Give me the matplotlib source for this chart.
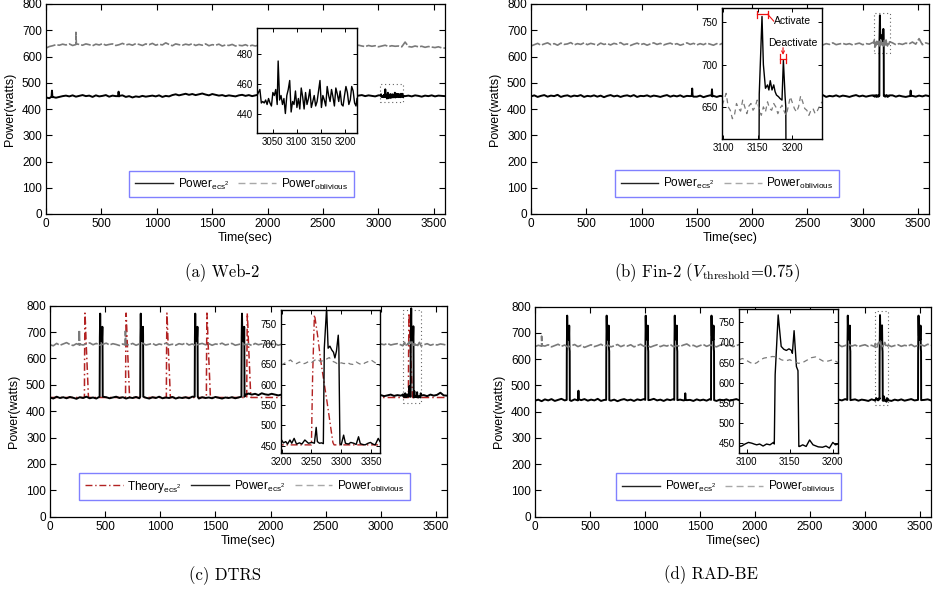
import numpy as np
import matplotlib
matplotlib.use("Agg")
import matplotlib.pyplot as plt
from matplotlib.lines import Line2D
from matplotlib.patches import Rectangle

plt.rcParams['font.family'] = ['Liberation Sans', 'DejaVu Sans']
plt.rcParams['mathtext.fontset'] = 'custom'
plt.rcParams['mathtext.rm'] = 'Liberation Sans'
plt.rcParams['mathtext.it'] = 'Liberation Sans:italic'
plt.rcParams['mathtext.bf'] = 'Liberation Sans:bold'
plt.rcParams['mathtext.sf'] = 'Liberation Sans'

# ---------------------------------------------------------------- data
STEP = 30   # seconds between samples of the baseline lists below

# (a) Web-2
A_ECS = [444, 441, 446, 443, 446, 449, 451, 448, 452, 447,
         450, 453, 449, 451, 446, 452, 448, 450, 453, 447,
         451, 449, 450, 452, 446, 449, 444, 448, 446, 450,
         447, 449, 451, 448, 452, 446, 450, 448, 453, 456,
         452, 455, 458, 454, 457, 453, 456, 459, 455, 452,
         457, 454, 451, 453, 449, 452, 450, 448, 452, 454,
         450, 453, 449, 452, 455, 451, 448, 453, 450, 454,
         451, 449, 452, 455, 450, 453, 448, 451, 454, 450,
         452, 449, 453, 451, 448, 452, 450, 453, 449, 451,
         454, 450, 452, 448, 451, 453, 449, 452, 450, 448,
         452, 449, 451, 453, 448, 452, 450, 453, 449, 451,
         448, 452, 450, 447, 451, 449, 452, 448, 451, 450,
         449]
A_ECS_EXTRA = [(50, 447), (54, 470), (58, 445), (651, 449), (655, 466), (659, 448)]
A_OBL = [632, 638, 641, 645, 643, 647, 644, 648, 642, 646,
         646, 643, 648, 645, 641, 647, 644, 649, 643, 646,
         648, 642, 645, 650, 644, 647, 643, 649, 646, 642,
         648, 645, 650, 643, 647, 644, 652, 646, 641, 648,
         645, 643, 647, 644, 649, 642, 646, 643, 648, 641,
         645, 643, 647, 640, 644, 642, 646, 640, 643, 641,
         645, 639, 643, 640, 644, 641, 638, 643, 640, 642,
         639, 643, 640, 644, 641, 638, 642, 639, 643, 640,
         637, 642, 639, 643, 640, 638, 641, 643, 639, 642,
         640, 637, 641, 639, 643, 640, 638, 642, 639, 641,
         637, 640, 643, 638, 641, 639, 640, 637, 655, 638,
         636, 640, 637, 639, 635, 638, 636, 634, 637, 633,
         632]
A_OBL_EXTRA = [(266, 645), (270, 692), (274, 648)]
A_IN_ECS = [(3017, 452), (3020, 454), (3023, 456), (3026, 447), (3029, 448), (3032, 447),
            (3035, 449), (3038, 446), (3041, 450), (3044, 447), (3047, 445), (3050, 454),
            (3053, 452), (3056, 456), (3059, 446), (3061, 475), (3064, 449), (3067, 452),
            (3070, 446), (3073, 450), (3076, 440), (3079, 452), (3082, 456), (3085, 462),
            (3088, 441), (3091, 448), (3094, 446), (3097, 455), (3100, 444), (3103, 450),
            (3106, 443), (3109, 457), (3112, 451), (3115, 443), (3118, 454), (3121, 446),
            (3124, 450), (3127, 456), (3130, 444), (3133, 448), (3136, 452), (3139, 445),
            (3142, 448), (3145, 455), (3148, 462), (3151, 444), (3154, 452), (3157, 449),
            (3160, 445), (3163, 458), (3166, 452), (3169, 448), (3172, 456), (3175, 451),
            (3178, 445), (3181, 457), (3184, 453), (3187, 448), (3190, 455), (3193, 446),
            (3196, 445), (3199, 452), (3202, 458), (3205, 454), (3208, 446), (3211, 449),
            (3214, 458), (3217, 455), (3220, 447), (3223, 445), (3225, 450)]

# (b) Fin-2
B_ECS = [448, 452, 446, 450, 453, 447, 451, 449, 454, 446,
         450, 452, 447, 451, 449, 453, 446, 450, 448, 452,
         447, 451, 445, 450, 453, 448, 451, 446, 450, 452,
         448, 453, 446, 450, 449, 452, 447, 451, 449, 446,
         450, 453, 447, 451, 448, 452, 446, 450, 449, 447,
         447, 451, 445, 449, 452, 450, 446, 450, 448, 452,
         447, 451, 446, 450, 453, 448, 451, 447, 450, 452,
         446, 449, 451, 447, 452, 448, 450, 453, 447, 451,
         449, 446, 452, 448, 450, 447, 451, 449, 453, 446,
         450, 448, 452, 447, 451, 449, 446, 450, 453, 448,
         451, 447, 450, 452, 448, 451, 446, 450, 449, 452,
         447, 451, 448, 446, 449, 450, 447, 451, 448, 452,
         449]
B_ECS_EXTRA = [(1454, 450), (1458, 478), (1462, 449), (1633, 451), (1637, 475), (1641, 448),
               (3430, 449), (3434, 470), (3438, 450)]
B_OBL = [640, 645, 650, 643, 648, 652, 645, 649, 643, 651,
         646, 648, 653, 644, 649, 646, 652, 645, 650, 647,
         643, 651, 646, 649, 644, 650, 647, 653, 645, 648,
         642, 647, 651, 645, 649, 643, 648, 652, 646, 650,
         644, 648, 651, 645, 649, 643, 647, 652, 646, 650,
         644, 649, 645, 651, 647, 643, 649, 646, 652, 645,
         648, 644, 650, 646, 649, 643, 648, 651, 645, 649,
         647, 652, 645, 648, 644, 650, 646, 649, 652, 645,
         648, 643, 650, 646, 649, 645, 651, 647, 644, 649,
         646, 652, 645, 648, 650, 646, 649, 644, 648, 651,
         645, 649, 647, 653, 646, 648, 644, 650, 647, 652,
         645, 649, 646, 651, 648, 655, 647, 668, 645, 652,
         648]
B_IN_ECS = [(3098, 449), (3103, 452), (3108, 447), (3113, 451), (3118, 448), (3123, 453),
            (3128, 446), (3133, 450), (3138, 452), (3143, 447), (3148, 451), (3151, 450),
            (3152, 665), (3156, 757), (3158, 700), (3161, 672), (3164, 676), (3166, 670),
            (3168, 681), (3170.5, 670), (3173, 676), (3175, 668), (3177, 664), (3180, 662),
            (3182, 660), (3185, 658), (3187, 705), (3189.5, 662), (3190.5, 650), (3191.5, 450),
            (3197, 452), (3202, 447), (3207, 451), (3212, 448), (3217, 453), (3222, 449),
            (3227, 446), (3232, 451), (3237, 449), (3243, 452)]
B_IN_OBL = [(3098, 652), (3101, 658), (3104, 666), (3107, 650), (3110, 646), (3113, 636),
            (3116, 640), (3119, 654), (3122, 648), (3125, 645), (3128, 658), (3131, 650),
            (3134, 642), (3137, 651), (3140, 654), (3143, 646), (3146, 650), (3149, 658),
            (3152, 646), (3155, 640), (3158, 650), (3161, 644), (3164, 656), (3167, 648),
            (3170, 646), (3173, 654), (3176, 650), (3179, 642), (3182, 648), (3185, 652),
            (3188, 645), (3191, 640), (3194, 650), (3197, 662), (3200, 655), (3203, 648),
            (3206, 644), (3209, 650), (3212, 663), (3215, 656), (3218, 648), (3221, 646),
            (3224, 640), (3227, 646), (3230, 648), (3233, 642), (3236, 645), (3239, 650),
            (3243, 656)]
# annotation anchors of panel (b) inset (data units)
ACT_BRACKET = (3148.8, 3164.3, 759.5)
ACT_TEXT = (3173, 751.5)
DEACT_TEXT = (3165, 726)
DEACT_ARROW = (3186.5, 720, 711.5)
DEACT_BRACKET = (3181.6, 3191.3, 707)

# (c) DTRS
C_ECS = [452, 448, 455, 450, 453, 449, 454, 451, 447, 453,
         450, 455, 449, 452, 448, 454, 450, 453, 449, 452,
         455, 450, 453, 448, 452, 450, 454, 449, 453, 451,
         448, 453, 450, 455, 449, 452, 450, 454, 448, 452,
         450, 453, 449, 455, 451, 448, 453, 450, 452, 449,
         454, 451, 448, 452, 450, 453, 449, 452, 465, 462,
         467, 463, 466, 461, 468, 464, 462, 466, 463, 460,
         463, 459, 462, 458, 461, 464, 459, 462, 460, 463,
         458, 461, 459, 463, 460, 462, 458, 461, 464, 459,
         462, 460, 463, 459, 461, 458, 462, 460, 463, 459,
         461, 457, 460, 463, 458, 461, 459, 462, 457, 460,
         458, 462, 459, 461, 457, 463, 459, 462, 470, 460,
         459]
C_ECS_T0 = [450, 818, 1312, 1736]
C_ECS_DT = [0, 2, 5, 8, 11, 15, 19, 22, 25, 26, 28]
C_ECS_V = [455, 680, 770, 690, 695, 682, 665, 683, 720, 690, 455]
C_OBL = [652, 648, 657, 650, 655, 660, 653, 649, 656, 651,
         651, 655, 659, 652, 657, 650, 654, 658, 651, 656,
         653, 649, 655, 652, 652, 657, 650, 655, 658, 651,
         654, 657, 650, 655, 652, 658, 651, 654, 650, 656,
         653, 659, 651, 655, 649, 654, 657, 652, 656, 650,
         655, 653, 658, 651, 654, 657, 650, 653, 656, 652,
         655, 649, 657, 652, 655, 651, 658, 653, 656, 650,
         654, 657, 652, 655, 650, 656, 653, 658, 651, 655,
         652, 657, 650, 654, 658, 652, 655, 651, 656, 653,
         650, 655, 657, 652, 654, 651, 656, 653, 658, 650,
         655, 652, 657, 651, 654, 656, 652, 655, 650, 654,
         657, 651, 655, 652, 656, 650, 654, 651, 655, 653,
         650]
C_OBL_EXTRA = [(262, 652), (266, 708), (270, 654), (680, 651), (684, 704), (688, 653)]
THEORY_BASE = 452
THEORY_T0 = [312, 685, 1055, 1418, 1784, 3250]
THEORY_DT = [0, 2, 5, 6, 11, 15, 26, 36, 38]
THEORY_V = [452, 620, 772, 765, 715, 665, 560, 458, 452]
C_IN_ECS = [(3199, 462), (3200, 464), (3203, 457), (3207, 460), (3210, 454), (3214, 464),
            (3217, 456), (3221, 468), (3225, 454), (3230, 457), (3234, 454), (3239, 464),
            (3245, 456), (3251, 458), (3255, 456), (3258, 495), (3260, 460), (3263.5, 456),
            (3267, 457), (3270, 455), (3271.6, 690), (3275.5, 790), (3278, 690), (3281, 695),
            (3284, 686), (3287, 680), (3289.4, 666), (3292, 683), (3295, 722), (3296, 690),
            (3297.8, 455), (3300, 452), (3304, 476), (3307, 456), (3312, 454), (3316, 458),
            (3321, 456), (3325, 453), (3329, 472), (3332, 455), (3336, 453), (3340, 452),
            (3345, 456), (3349, 458), (3353, 454), (3357, 452), (3362, 468), (3365, 460)]
C_IN_OBL = [(3199, 648), (3205, 653), (3210, 657), (3215, 661), (3220, 654), (3225, 652),
            (3230, 656), (3235, 651), (3240, 653), (3245, 657), (3250, 654), (3255, 660),
            (3260, 664), (3265, 657), (3270, 660), (3275, 663), (3280, 667), (3285, 658),
            (3290, 655), (3295, 650), (3300, 654), (3305, 652), (3310, 655), (3315, 651),
            (3320, 650), (3325, 656), (3330, 652), (3335, 649), (3340, 654), (3345, 657),
            (3350, 661), (3355, 656), (3360, 651), (3365, 647)]

# (d) RAD-BE
D_ECS = [442, 446, 440, 447, 443, 448, 441, 445, 449, 443,
         446, 441, 447, 443, 444, 448, 442, 446, 443, 449,
         441, 445, 447, 442, 446, 440, 445, 448, 443, 446,
         441, 447, 444, 448, 442, 445, 449, 443, 446, 441,
         447, 444, 448, 442, 446, 443, 444, 445, 441, 447,
         443, 446, 442, 448, 444, 441, 446, 443, 447, 442,
         445, 448, 443, 446, 441, 445, 447, 442, 446, 443,
         448, 441, 445, 447, 443, 446, 442, 448, 444, 441,
         446, 443, 447, 442, 445, 448, 443, 446, 441, 447,
         444, 442, 446, 443, 448, 441, 445, 447, 442, 446,
         444, 441, 447, 443, 446, 442, 448, 444, 441, 446,
         443, 447, 442, 445, 448, 443, 446, 441, 445, 447,
         443]
D_ECS_EXTRA = [(391, 446), (395, 480), (399, 447), (1362, 444), (1366, 470), (1370, 445)]
D_ECS_T0 = [288, 647, 1002, 1266, 1600, 2839, 3482]
D_ECS_DT = [0, 1, 4.5, 8, 11, 14, 17, 20, 23, 25.5, 27.5, 28.5]
D_ECS_V = [445, 620, 766, 690, 683, 680, 685, 673, 728, 640, 630, 444]
D_OBL = [648, 653, 650, 650, 655, 647, 652, 657, 649, 654,
         646, 651, 656, 648, 653, 645, 650, 655, 648, 652,
         657, 649, 654, 647, 651, 656, 648, 653, 650, 655,
         647, 652, 657, 649, 653, 646, 651, 655, 648, 653,
         650, 656, 647, 652, 649, 654, 658, 650, 653, 647,
         652, 656, 649, 654, 651, 647, 653, 657, 650, 654,
         648, 652, 656, 649, 653, 647, 652, 655, 650, 654,
         648, 653, 657, 650, 652, 647, 654, 651, 656, 649,
         653, 648, 652, 655, 650, 654, 647, 651, 656, 649,
         653, 650, 655, 648, 652, 657, 650, 654, 648, 652,
         655, 649, 653, 647, 651, 656, 650, 654, 648, 652,
         655, 649, 653, 650, 656, 648, 652, 655, 650, 657,
         653]
D_OBL_EXTRA = [(56, 650), (60, 688), (64, 652)]
D_IN_ECS = [(3091, 442), (3094, 443), (3098, 448), (3102, 452), (3106, 450), (3108.5, 448),
            (3111.5, 446), (3115, 448), (3119, 443), (3123, 448), (3127, 446), (3131, 452),
            (3132, 448), (3133, 620), (3136.5, 768), (3140, 690), (3143, 683), (3146, 680),
            (3149, 684), (3152, 680), (3153, 673), (3155, 729), (3157.7, 640), (3159.5, 630),
            (3160.5, 442), (3161.5, 442), (3165, 446), (3169, 442), (3173, 458), (3177, 446),
            (3183, 441), (3188, 440), (3192, 443), (3196, 438), (3200, 452), (3203, 446),
            (3206, 448)]
D_IN_OBL = [(3091, 657), (3095, 660), (3100, 655), (3104, 650), (3108, 646), (3112, 650),
            (3116, 657), (3120, 661), (3125, 663), (3130, 665), (3135, 664), (3140, 657),
            (3145, 654), (3150, 657), (3155, 652), (3160, 648), (3165, 650), (3170, 656),
            (3175, 662), (3180, 664), (3185, 658), (3190, 652), (3195, 654), (3200, 657),
            (3206, 650)]

# inset windows (x range, y range)
WIN = {'a': ((3017, 3225), (427, 497)),
       'b': ((3098, 3243), (612, 767)),
       'c': ((3199, 3365), (432, 784)),
       'd': ((3091, 3206), (425, 782))}

CAPTIONS = {'a': '(a) Web-2',
            'b': r'(b) Fin-2 ($V_{\rm threshold}$=0.75)',
            'c': '(c) DTRS',
            'd': '(d) RAD-BE'}

LBL_THEORY = r'Theory$_{\rm ecs^2}$'
LBL_ECS = r'Power$_{\rm ecs^2}$'
LBL_OBL = r'Power$_{\rm oblivious}$'

# ---------------------------------------------------------------- helpers
def build(base, extras=(), spikes=None, window=None, fine=()):
    t = np.arange(len(base)) * STEP
    v = np.asarray(base, float)
    keep = np.ones(len(t), bool)
    pts = []
    if spikes is not None:
        t0s, dts, vs = spikes
        for t0 in t0s:
            keep &= ~((t >= t0 - 3) & (t <= t0 + dts[-1] + 3))
            pts += [(t0 + d, val) for d, val in zip(dts, vs)]
    if window is not None:
        keep &= ~((t >= window[0]) & (t <= window[1]))
        pts = [p for p in pts if not (window[0] <= p[0] <= window[1])]
        pts += list(fine)
    pts += list(extras)
    pts += list(zip(t[keep], v[keep]))
    pts.sort()
    arr = np.array(pts, float)
    return arr[:, 0], arr[:, 1]


def theory_series():
    pts = [(0, THEORY_BASE), (3600, THEORY_BASE)]
    for t0 in THEORY_T0:
        pts += [(t0 + d, val) for d, val in zip(THEORY_DT, THEORY_V)]
    pts.sort()
    arr = np.array(pts, float)
    return arr[:, 0], arr[:, 1]


def unzip(p):
    arr = np.array(p, float)
    return arr[:, 0], arr[:, 1]


W, H = 937, 592
fig = plt.figure(figsize=(W / 100, H / 100), dpi=100)


def px_axes(l, t, r, b):
    return fig.add_axes([l / W, 1 - b / H, (r - l) / W, (b - t) / H])


BLACK = 'k'
GRAY = '#7a7a7a'
RED = '#b22222'
MAIN_DASH = (6, 1.2)
IN_DASH = (4, 3)
LW_ECS = 1.4
LW_OBL = 1.2

MAIN_BOX = {'a': (46, 4, 445, 214), 'b': (531, 4, 929, 214),
            'c': (50, 305.7, 447, 516.7), 'd': (535, 306.7, 931, 516.7)}
INSET_BOX = {'a': (257, 28, 357, 133), 'b': (722, 8, 822, 139),
             'c': (281, 310, 380, 453), 'd': (739, 309.3, 838, 453.3)}
LEG_CENTER = {'a': (0.49, 0.143), 'b': (0.4925, 0.145),
              'c': (0.49, 0.143), 'd': (0.489, 0.142)}
CAP_POS = {'a': (222, 273), 'b': (707, 273), 'c': (225, 576), 'd': (711, 575)}
INSET_TICKS = {'a': ([3050, 3100, 3150, 3200], [440, 460, 480]),
               'b': ([3100, 3150, 3200], [650, 700, 750]),
               'c': ([3200, 3250, 3300, 3350], list(range(450, 751, 50))),
               'd': ([3100, 3150, 3200], list(range(450, 751, 50)))}


def setup_main(ax):
    ax.set_xlim(0, 3600)
    ax.set_ylim(0, 800)
    ax.set_xticks(range(0, 3501, 500))
    ax.set_yticks(range(0, 801, 100))
    ax.tick_params(direction='in', top=True, right=True, length=4, width=0.8,
                   labelsize=8.5, pad=3)
    for s in ax.spines.values():
        s.set_linewidth(0.9)
    ax.set_xlabel('Time(sec)', fontsize=9)
    ax.set_ylabel('Power(watts)', fontsize=9)
    ax.xaxis.set_label_coords(0.5, -0.088)
    ax.yaxis.set_label_coords(-0.076, 0.5)


def setup_inset(key):
    axi = px_axes(*INSET_BOX[key])
    (x0, x1), (y0, y1) = WIN[key]
    axi.set_xlim(x0, x1)
    axi.set_ylim(y0, y1)
    xt, yt = INSET_TICKS[key]
    axi.set_xticks(xt)
    axi.set_yticks(yt)
    axi.tick_params(direction='in', top=True, right=True, length=3, width=0.7,
                    labelsize=7, pad=3)
    for s in axi.spines.values():
        s.set_linewidth(1.0)
    return axi


def window_rect(ax, key):
    (x0, x1), (y0, y1) = WIN[key]
    ax.add_patch(Rectangle((x0, y0), x1 - x0, y1 - y0, fill=False,
                           edgecolor='#666666', lw=0.8, linestyle=(0, (1, 2.5))))


def legend(ax, key, with_theory=False):
    hs, ls = [], []
    if with_theory:
        hs.append(Line2D([], [], color=RED, lw=1.0, dashes=(5, 2, 1, 2)))
        ls.append(LBL_THEORY)
    hs.append(Line2D([], [], color='#222222', lw=1.0))
    ls.append(LBL_ECS)
    hs.append(Line2D([], [], color='#a8a8a8', lw=1.0, dashes=(5, 3)))
    ls.append(LBL_OBL)
    leg = ax.legend(hs, ls, loc='center', bbox_to_anchor=LEG_CENTER[key], ncol=len(hs),
                    fontsize=8.5, handlelength=3.2, handletextpad=0.4, columnspacing=0.8,
                    borderpad=0.5, fancybox=False, framealpha=1, edgecolor='#8080ff')
    leg.get_frame().set_linewidth(1.0)


def caption(key):
    x, y = CAP_POS[key]
    fig.text(x / W, 1 - y / H, CAPTIONS[key], ha='center', va='center',
             fontsize=12, family=['cmr10', 'DejaVu Serif'], math_fontfamily='cm')


# ---------------------------------------------------------------- (a)
ax = px_axes(*MAIN_BOX['a'])
t, v = build(A_ECS, A_ECS_EXTRA, window=WIN['a'][0], fine=A_IN_ECS)
ax.plot(t, v, color=BLACK, lw=LW_ECS)
t, v = build(A_OBL, A_OBL_EXTRA)
ax.plot(t, v, color=GRAY, lw=LW_OBL, dashes=MAIN_DASH)
setup_main(ax)
window_rect(ax, 'a')
legend(ax, 'a')
axi = setup_inset('a')
t, v = unzip(A_IN_ECS)
axi.plot(t, v, color=BLACK, lw=1.0)
caption('a')

# ---------------------------------------------------------------- (b)
ax = px_axes(*MAIN_BOX['b'])
t, v = build(B_ECS, B_ECS_EXTRA, window=WIN['b'][0], fine=B_IN_ECS)
ax.plot(t, v, color=BLACK, lw=LW_ECS)
t, v = build(B_OBL, window=WIN['b'][0], fine=B_IN_OBL)
ax.plot(t, v, color=GRAY, lw=LW_OBL, dashes=MAIN_DASH)
setup_main(ax)
window_rect(ax, 'b')
legend(ax, 'b')
axi = setup_inset('b')
t, v = unzip(B_IN_ECS)
axi.plot(t, v, color=BLACK, lw=1.0)
t, v = unzip(B_IN_OBL)
axi.plot(t, v, color=GRAY, lw=0.9, dashes=IN_DASH)
ANN = '#ee1111'
x0, x1, y = ACT_BRACKET
axi.plot([x0, x1], [y, y], color=ANN, lw=0.9)
axi.plot([x0, x0], [y - 4, y + 4], color=ANN, lw=0.9)
axi.plot([x1, x1], [y - 4, y + 4], color=ANN, lw=0.9)
axi.plot([x1, ACT_TEXT[0]], [y, ACT_TEXT[1]], color=ANN, lw=0.8)
axi.text(ACT_TEXT[0], ACT_TEXT[1], 'Activate', fontsize=7.5, ha='left', va='center')
axi.text(DEACT_TEXT[0], DEACT_TEXT[1], 'Deactivate', fontsize=7.5, ha='left', va='center')
ax_, ya, yb = DEACT_ARROW
axi.annotate('', xy=(ax_, yb), xytext=(ax_, ya),
             arrowprops=dict(arrowstyle='->', color=ANN, lw=0.8, mutation_scale=5,
                             shrinkA=0, shrinkB=0))
x0, x1, y = DEACT_BRACKET
axi.plot([x0, x1], [y, y], color=ANN, lw=0.9)
axi.plot([x0, x0], [y - 5, y + 5], color=ANN, lw=0.9)
axi.plot([x1, x1], [y - 5, y + 5], color=ANN, lw=0.9)
caption('b')

# ---------------------------------------------------------------- (c)
ax = px_axes(*MAIN_BOX['c'])
tt, tv = theory_series()
ax.plot(tt, tv, color=RED, lw=1.1, dashes=(5, 2, 1, 2))
t, v = build(C_ECS, spikes=(C_ECS_T0, C_ECS_DT, C_ECS_V), window=WIN['c'][0], fine=C_IN_ECS)
ax.plot(t, v, color=BLACK, lw=LW_ECS)
t, v = build(C_OBL, C_OBL_EXTRA, window=WIN['c'][0], fine=C_IN_OBL)
ax.plot(t, v, color=GRAY, lw=LW_OBL, dashes=MAIN_DASH)
setup_main(ax)
window_rect(ax, 'c')
legend(ax, 'c', with_theory=True)
axi = setup_inset('c')
axi.plot(tt, tv, color=RED, lw=1.0, dashes=(5, 2, 1, 2))
t, v = unzip(C_IN_ECS)
axi.plot(t, v, color=BLACK, lw=1.0)
t, v = unzip(C_IN_OBL)
axi.plot(t, v, color=GRAY, lw=0.9, dashes=IN_DASH)
caption('c')

# ---------------------------------------------------------------- (d)
ax = px_axes(*MAIN_BOX['d'])
t, v = build(D_ECS, D_ECS_EXTRA, spikes=(D_ECS_T0, D_ECS_DT, D_ECS_V),
             window=WIN['d'][0], fine=D_IN_ECS)
ax.plot(t, v, color=BLACK, lw=LW_ECS)
t, v = build(D_OBL, D_OBL_EXTRA, window=WIN['d'][0], fine=D_IN_OBL)
ax.plot(t, v, color=GRAY, lw=LW_OBL, dashes=MAIN_DASH)
setup_main(ax)
window_rect(ax, 'd')
legend(ax, 'd')
axi = setup_inset('d')
t, v = unzip(D_IN_ECS)
axi.plot(t, v, color=BLACK, lw=1.0)
t, v = unzip(D_IN_OBL)
axi.plot(t, v, color=GRAY, lw=0.9, dashes=IN_DASH)
caption('d')

fig.savefig('out.png', dpi=100)
